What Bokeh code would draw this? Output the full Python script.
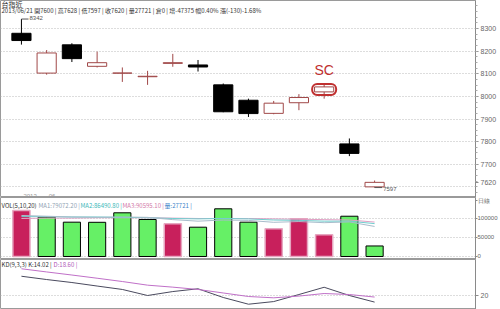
from bokeh.plotting import figure
from bokeh.layouts import column
from bokeh.models import Range1d, FixedTicker, Label, PrintfTickFormatter
from bokeh.core.properties import value
from bokeh.embed import file_html
from bokeh.resources import INLINE

# ---------------- data ----------------
title_name = "台指近"
header_line = "2013/06/21 開7600 | 高7628 | 低7597 | 收7620 | 量27721 | 倉0 | 增-47375 幅0.40% 漲(-130)-1.68%"
date_labels = ["2013", "06"]
date_idx = [0, 1]

opens  = [8279, 8103, 8228, 8133, 8103, 8087, 8146, 8139, 8051, 7983, 7925, 7972, 8020, 7790, 7600]
highs  = [8342, 8205, 8235, 8198, 8128, 8113, 8188, 8161, 8057, 7990, 7980, 8010, 8056, 7814, 7628]
lows   = [8229, 8096, 8152, 8128, 8064, 8051, 8131, 8110, 7930, 7909, 7921, 7939, 7990, 7736, 7597]
closes = [8247, 8192, 8167, 8149, 8103, 8089, 8149, 8130, 7932, 7924, 7970, 7995, 8042, 7748, 7620]

volumes = [121000, 103400, 90300, 90000, 115000, 97400, 86000, 77100, 125500, 90300, 72900, 99200, 57100, 106000, 27721]
vol_red = [True, False, False, False, False, False, True, False, False, False, True, True, True, False, False]
ma5  = [108000, 106000, 104000, 103000, 104000, 103000, 97000, 93000, 96000, 95000, 90000, 92000, 89000, 91000, 79072]
ma10 = [105000, 105000, 104000, 104000, 103000, 102000, 100000, 99000, 100000, 99000, 96000, 95000, 93000, 93000, 86490]
ma20 = [100000, 101000, 101000, 102000, 102000, 102000, 101000, 100000, 100000, 100000, 99000, 98000, 97000, 96000, 90595]

k_vals = [37.5, 34.5, 31.8, 28.6, 25.5, 20.0, 23.6, 26.1, 18.2, 12.1, 14.5, 20.9, 27.5, 20.0, 14.02]
d_vals = [44.3, 41.4, 38.6, 35.7, 32.7, 29.4, 27.6, 25.5, 22.3, 19.1, 17.9, 19.5, 21.8, 20.9, 18.6]

price_ticks = [7620, 7700, 7800, 7900, 8000, 8100, 8200, 8300]
price_grid = [7600, 7700, 7800, 7900, 8000, 8100, 8200, 8300]
vol_ticks = [0, 50000, 100000]
period_label = "日線"
period_tick = 147000
kd_ticks = [20, 80]
sc_index = 12
sc_text = "SC"

vol_legend = [("VOL(5,10,20)", "#333333"), ("MA1:79072.20 |", "#8FA3B3"),
              ("MA2:86490.80 |", "#3BB8B8"), ("MA3:90595.10 |", "#D27AA8"), ("量:27721 |", "#3A7FC8")]
kd_legend = [("KD(9,3,3) K:14.02 |", "#333333"), ("D:18.60 |", "#B05AB8")]

# ---------------- styling helpers ----------------
FONT = "Noto Sans CJK TC"
W = 500
RB = 22
xr = Range1d(-0.83, 18.0)
n = len(opens)
xs = list(range(n))


def style_fig(p, ticks, grid_ticks=None, minor=None):
    p.outline_line_color = "#9A9A9A"
    p.xaxis.visible = False
    p.xgrid.visible = False
    ax = p.yaxis[0]
    ax.ticker = FixedTicker(ticks=ticks, minor_ticks=minor or [])
    ax.axis_line_color = "#8A8A8A"
    ax.major_tick_line_color = "#8A8A8A"
    ax.minor_tick_line_color = "#AAAAAA"
    ax.major_tick_in = 0
    ax.major_tick_out = 3
    ax.minor_tick_in = 0
    ax.minor_tick_out = 2
    ax.major_label_standoff = 2
    ax.major_label_text_font_size = "7px"
    ax.major_label_text_color = "#666666"
    ax.major_label_text_font = "Liberation Sans"
    p.ygrid.ticker = FixedTicker(ticks=grid_ticks or ticks)
    p.ygrid.grid_line_color = "#BBBBBB"
    p.ygrid.grid_line_dash = "1 2"
    p.min_border_left = 0
    p.min_border_top = 0
    p.min_border_bottom = 0
    p.min_border_right = RB
    p.background_fill_color = "white"
    p.border_fill_color = "white"


# ---------------- main price panel ----------------
H1 = 197
p1 = figure(width=W, height=H1, x_range=xr, y_range=Range1d(7553, 8424),
            y_axis_location="right", output_backend="svg", toolbar_location=None, tools="")
style_fig(p1, price_ticks, grid_ticks=price_grid, minor=list(range(7575, 8425, 25)))

up_col = "#A04848"
colors = []
fills = []
for o, c in zip(opens, closes):
    if c < o:
        colors.append("black"); fills.append("black")
    else:
        colors.append(up_col); fills.append("white")

p1.segment(x0=xs, y0=lows, x1=xs, y1=highs, color=colors, line_width=1)
tops = [max(o, c) for o, c in zip(opens, closes)]
bots = [min(o, c) for o, c in zip(opens, closes)]
p1.vbar(x=xs, width=0.76, top=tops, bottom=bots, fill_color=fills, line_color=colors, line_width=1)

# SC marker
sc_mid = (opens[sc_index] + closes[sc_index]) / 2
p1.rect(x=[sc_index], y=[sc_mid], width=24, height=11, width_units="screen", height_units="screen",
        fill_alpha=0, line_color="#C03030", line_width=2, border_radius=5)
p1.text(x=[sc_index], y=[highs[sc_index]], text=[sc_text], text_color="#C03030",
        text_font=value("Liberation Sans"), text_font_size="14px", text_align="center",
        text_baseline="bottom", y_offset=-6)

# high / low markers
hi_i = highs.index(max(highs))
lo_i = lows.index(min(lows))
p1.segment(x0=[hi_i], y0=[highs[hi_i]], x1=[hi_i + 0.28], y1=[highs[hi_i]], color="#555555", line_width=1)
p1.text(x=[hi_i + 0.28], y=[highs[hi_i]], text=[str(highs[hi_i])], text_color="#555555",
        text_font=value("Liberation Sans"), text_font_size="6px", text_baseline="bottom", x_offset=1, y_offset=1)
p1.segment(x0=[lo_i], y0=[lows[lo_i]], x1=[lo_i + 0.3], y1=[lows[lo_i]], color="#555555", line_width=1)
p1.text(x=[lo_i + 0.3], y=[lows[lo_i]], text=[str(lows[lo_i])], text_color="#555555",
        text_font=value("Liberation Sans"), text_font_size="6px", text_baseline="middle", x_offset=1, y_offset=1)

# date labels
p1.text(x=date_idx, y=[7553] * len(date_idx), text=date_labels, text_color="#999999",
        text_font=value("Liberation Sans"), text_font_size="6px", text_baseline="bottom", x_offset=2)

# header
p1.add_layout(Label(x=1, y=H1 - 3, x_units="screen", y_units="screen", text=title_name,
                    text_font=FONT, text_font_size="7px", text_color="#333333", text_baseline="middle"))
p1.add_layout(Label(x=1, y=H1 - 10, x_units="screen", y_units="screen", text=header_line,
                    text_font=FONT, text_font_size="6px", text_color="#333333", text_baseline="middle"))

# ---------------- volume panel ----------------
H2 = 62
p2 = figure(width=W, height=H2, x_range=xr, y_range=Range1d(-7895, 155263),
            y_axis_location="right", output_backend="svg", toolbar_location=None, tools="")
style_fig(p2, vol_ticks + [period_tick], grid_ticks=vol_ticks)
ax2 = p2.yaxis[0]
ax2.formatter = PrintfTickFormatter(format="%d")
ax2.major_label_overrides = {period_tick: period_label}
ax2.major_label_standoff = 0
ax2.major_tick_out = 2
ax2.major_label_text_font_size = "6px"

vx_r = [i for i in xs if vol_red[i]]
vv_r = [volumes[i] for i in xs if vol_red[i]]
vx_g = [i for i in xs if not vol_red[i]]
vv_g = [volumes[i] for i in xs if not vol_red[i]]
p2.vbar(x=vx_r, width=0.68, top=vv_r, bottom=0, fill_color="#C8205C", line_color="#E6A6C0", line_width=1.5)
p2.vbar(x=vx_g, width=0.68, top=vv_g, bottom=0, fill_color="#66F066", line_color="black", line_width=1)
p2.line(x=xs, y=ma20, color="#E0A0C4", line_width=1)
p2.line(x=xs, y=ma10, color="#70CFCF", line_width=1)
p2.line(x=xs, y=ma5, color="#A8BCCB", line_width=1)

lx = [1, 38, 80, 122, 164]
for (t, c), x0 in zip(vol_legend, lx):
    p2.add_layout(Label(x=x0, y=H2 - 8, x_units="screen", y_units="screen", text=t,
                        text_font=FONT, text_font_size="6px", text_color=c, text_baseline="middle"))

# ---------------- KD panel ----------------
H3 = 50
p3 = figure(width=W, height=H3, x_range=xr, y_range=Range1d(7.3, 52.7),
            y_axis_location="right", output_backend="svg", toolbar_location=None, tools="")
style_fig(p3, kd_ticks)
p3.line(x=xs, y=k_vals, color="#4A4A5E", line_width=1)
p3.line(x=xs, y=d_vals, color="#C070C8", line_width=1)
kx = [1, 53]
for (t, c), x0 in zip(kd_legend, kx):
    p3.add_layout(Label(x=x0, y=H3 - 5, x_units="screen", y_units="screen", text=t,
                        text_font=FONT, text_font_size="6px", text_color=c, text_baseline="middle"))

layout = column(p1, p2, p3, spacing=0)
open("out.html", "w").write(file_html(layout, INLINE))
